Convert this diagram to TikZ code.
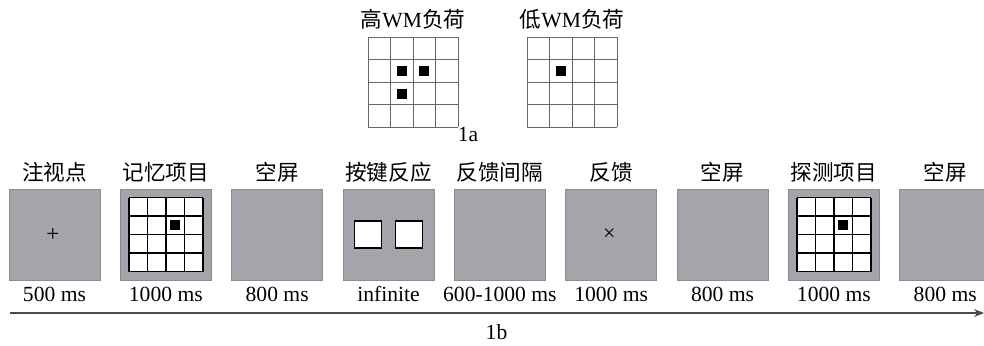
\documentclass[tikz,border=0pt]{standalone}
\usepackage{fontspec}
\setmainfont{Liberation Serif}
\newfontfamily\cjk{Noto Sans CJK SC}
\newcommand{\zh}[1]{{\cjk #1}}
\usetikzlibrary{positioning}
\usetikzlibrary{arrows.meta}
\definecolor{screengray}{RGB}{166,164,170}
\definecolor{screenedge}{RGB}{140,139,143}
\tikzstyle{screen} = [rectangle, fill=screengray, draw=screenedge, line width=0.5pt,
minimum size=45.5pt, inner sep=0pt, outer sep=0pt, node distance=10.17pt]
\tikzstyle{gridholder} = [rectangle, minimum size=45pt, inner sep=0pt, outer sep=0pt]
\tikzstyle{caption} = [font=\fontsize{10.8}{12}\selectfont, inner sep=0pt,
text height=8.2pt, text depth=1pt]
\tikzstyle{duration} = [font=\fontsize{10.8}{12}\selectfont, inner sep=0pt,
text height=7.2pt, text depth=2pt]
\tikzstyle{keybox} = [rectangle, fill=white, draw=black, line width=0.6pt,
minimum size=13.5pt, inner sep=0pt]
\tikzstyle{sign} = [font=\fontsize{11.5}{11.5}\selectfont, inner sep=0pt]
\tikzstyle{timeline} = [draw=black!70, line width=0.6pt, -{Stealth[length=5pt,width=4pt]}]
\newcommand{\wmgrid}[4][]{ %
  % 4x4 grid centred on node #2, cell size #3, black cells #4 given as col/row
  \begin{scope}[shift={(#2.center)}]
    \fill[white] (-2*#3,-2*#3) rectangle (2*#3,2*#3);
    \foreach \gi in {0,...,4} { %
      \draw[#1] ({(\gi-2)*#3},-2*#3) -- ({(\gi-2)*#3},2*#3);
      \draw[#1] (-2*#3,{(\gi-2)*#3}) -- (2*#3,{(\gi-2)*#3});
    } ;
    \foreach \gc/\gr in {#4} { %
      \fill[black] ({(\gc-2.5)*#3-2.5pt},{(2.5-\gr)*#3-2.5pt}) rectangle ++(5pt,5pt);
    } ;
  \end{scope}
}

\begin{document}
\begin{tikzpicture}
				\useasboundingbox (0,0) rectangle (492pt,172.5pt);

				% 1a: load conditions
				\node[gridholder] (hi) at (206.5pt,131.35pt) {};
				\node[gridholder] (lo) at (286pt,131.35pt) {};
				\wmgrid[draw=black!60, line width=0.5pt]{hi}{11.25pt}{2/2,3/2,2/3}
				\wmgrid[draw=black!60, line width=0.5pt]{lo}{11.25pt}{2/2}
				\node[caption, above=3.75pt of hi] (hil) {\zh{高}WM\zh{负荷}};
				\node[caption, above=3.75pt of lo] (lol) {\zh{低}WM\zh{负荷}};
				\node[duration] (fa) at (234pt,104.5pt) {1a};

				% 1b: trial sequence
				\node[screen] (s1) at (27.25pt,55.25pt) {};
				\node[screen, right=of s1] (s2) {};
				\node[screen, right=of s2] (s3) {};
				\node[screen, right=of s3] (s4) {};
				\node[screen, right=of s4] (s5) {};
				\node[screen, right=of s5] (s6) {};
				\node[screen, right=of s6] (s7) {};
				\node[screen, right=of s7] (s8) {};
				\node[screen, right=of s8] (s9) {};

				\node[sign, xshift=-0.8pt] (fix) at (s1) {+};
				\wmgrid[draw=black, line width=0.7pt]{s2}{9.25pt}{3/2}
				\node[keybox, xshift=-10.25pt] (k1) at (s4) {};
				\node[keybox, xshift=10.25pt] (k2) at (s4) {};
				\node[sign, font=\fontsize{11}{11}\selectfont, xshift=-1pt] (cross) at (s6) {×};
				\wmgrid[draw=black, line width=0.7pt]{s8}{9.25pt}{3/2}

				\node[caption, above=3.1pt of s1] (c1) {\zh{注视点}};
				\node[caption, above=3.1pt of s2] (c2) {\zh{记忆项目}};
				\node[caption, above=3.1pt of s3] (c3) {\zh{空屏}};
				\node[caption, above=3.1pt of s4] (c4) {\zh{按键反应}};
				\node[caption, above=3.1pt of s5] (c5) {\zh{反馈间隔}};
				\node[caption, above=3.1pt of s6] (c6) {\zh{反馈}};
				\node[caption, above=3.1pt of s7] (c7) {\zh{空屏}};
				\node[caption, above=3.1pt of s8] (c8) {\zh{探测项目}};
				\node[caption, above=3.1pt of s9] (c9) {\zh{空屏}};

				\node[duration, below=3.5pt of s1] (d1) {500 ms};
				\node[duration, below=3.5pt of s2] (d2) {1000 ms};
				\node[duration, below=3.5pt of s3] (d3) {800 ms};
				\node[duration, below=3.5pt of s4] (d4) {infinite};
				\node[duration, below=3.5pt of s5] (d5) {600-1000 ms};
				\node[duration, below=3.5pt of s6] (d6) {1000 ms};
				\node[duration, below=3.5pt of s7] (d7) {800 ms};
				\node[duration, below=3.5pt of s8] (d8) {1000 ms};
				\node[duration, below=3.5pt of s9] (d9) {800 ms};

				\coordinate (t0) at (5pt,16pt);
				\coordinate (t1) at (492pt,16pt);
				\draw[timeline] (t0) -- (t1);
				\node[duration] (fbl) at (248.25pt,5.5pt) {1b};
\end{tikzpicture}
\end{document}
